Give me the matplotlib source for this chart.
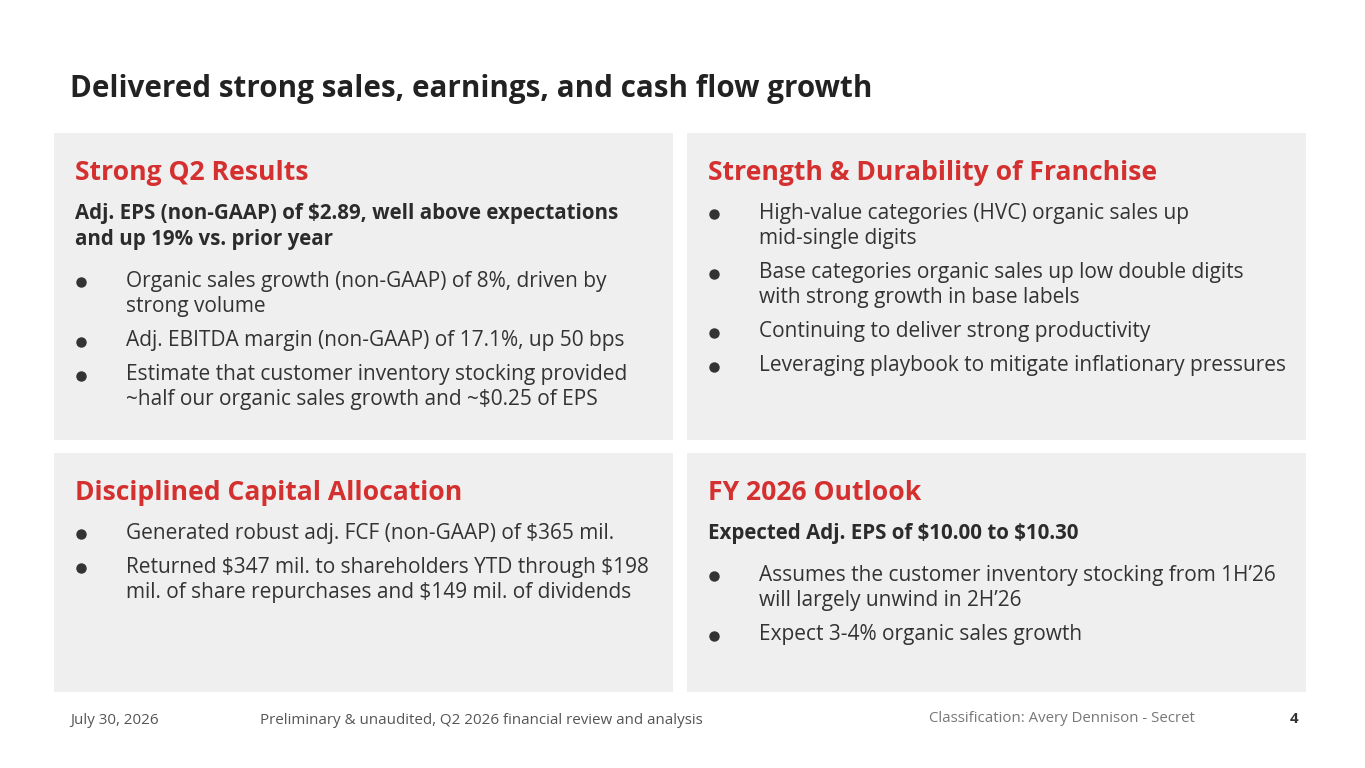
import matplotlib
matplotlib.use("Agg")
import matplotlib.pyplot as plt
from matplotlib.patches import Rectangle
plt.rcParams['text.parse_math'] = False

W, H = 1365, 768
title = "Delivered strong sales, earnings, and cash flow growth"
panels = [
    (54, 133, 619, 307, "Strong Q2 Results",
     ["Adj. EPS (non-GAAP) of $2.89, well above expectations", "and up 19% vs. prior year"],
     [["Organic sales growth (non-GAAP) of 8%, driven by", "strong volume"],
      ["Adj. EBITDA margin (non-GAAP) of 17.1%, up 50 bps"],
      ["Estimate that customer inventory stocking provided", "~half our organic sales growth and ~$0.25 of EPS"]]),
    (687, 133, 619, 307, "Strength & Durability of Franchise", [],
     [["High-value categories (HVC) organic sales up", "mid-single digits"],
      ["Base categories organic sales up low double digits", "with strong growth in base labels"],
      ["Continuing to deliver strong productivity"],
      ["Leveraging playbook to mitigate inflationary pressures"]]),
    (54, 453, 619, 239, "Disciplined Capital Allocation", [],
     [["Generated robust adj. FCF (non-GAAP) of $365 mil."],
      ["Returned $347 mil. to shareholders YTD through $198", "mil. of share repurchases and $149 mil. of dividends"]]),
    (687, 453, 619, 239, "FY 2026 Outlook",
     ["Expected Adj. EPS of $10.00 to $10.30"],
     [["Assumes the customer inventory stocking from 1H\u201926", "will largely unwind in 2H\u201926"],
      ["Expect 3-4% organic sales growth"]]),
]
footer_date = "July 30, 2026"
footer_mid = "Preliminary & unaudited, Q2 2026 financial review and analysis"
footer_class = "Classification: Avery Dennison - Secret"
page = "4"

RED = "#d3302f"
DARK = "#2b2b2b"
FONT = ["Open Sans", "DejaVu Sans"]

fig = plt.figure(figsize=(W/100, H/100), dpi=100)
ax = fig.add_axes([0, 0, 1, 1])
ax.set_xlim(0, W); ax.set_ylim(H, 0); ax.axis("off")

def t(x, y, s, size, color=DARK, weight="normal", ha="left"):
    ax.text(x, y, s, fontsize=size, color=color, fontweight=weight, ha=ha, va="center", family=FONT)

t(70, 89, title, 21.3, weight="bold", color="#222222")
for (x, y, w, h, head, sub, bullets) in panels:
    ax.add_patch(Rectangle((x, y), w, h, facecolor="#efefef", edgecolor="none"))
    t(x + 21, y + 40, head, 19.1, color=RED, weight="bold")
    cy = y + 80
    for line in sub:
        t(x + 21, cy, line, 14.8, weight="bold")
        cy += 26
    if sub:
        cy += 16
    for b in bullets:
        ax.plot(x + 27, cy + 1, "o", ms=6.5, color="#333333")
        for line in b:
            t(x + 72, cy, line, 15.0, color="#333333")
            cy += 25.5
        cy += 8.5

t(70, 720, footer_date, 10.9, color="#555555")
t(260, 720, footer_mid, 10.9, color="#555555")
t(929, 718, footer_class, 10.8, color="#777777")
t(1298, 719, page, 10.9, color="#333333", weight="bold", ha="right")

fig.savefig("out.png", dpi=100, facecolor="white")
